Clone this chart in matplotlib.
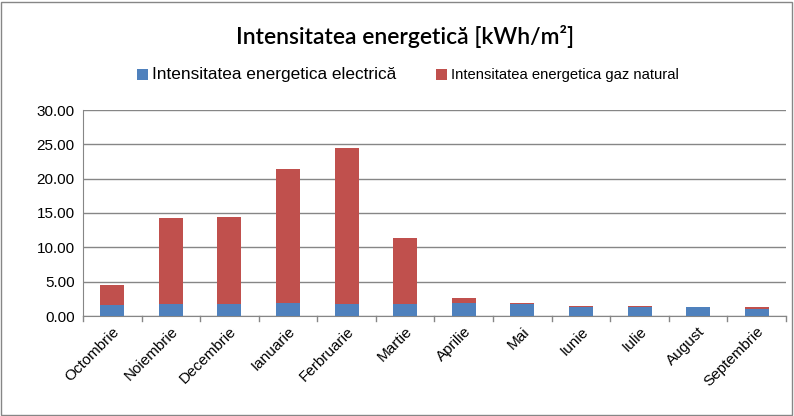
import matplotlib
matplotlib.use("Agg")
import matplotlib.pyplot as plt
from matplotlib.patches import Rectangle

months = ["Octombrie", "Noiembrie", "Decembrie", "Ianuarie", "Ferbruarie", "Martie",
          "Aprilie", "Mai", "Iunie", "Iulie", "August", "Septembrie"]
electric = [1.55, 1.80, 1.80, 1.89, 1.70, 1.70, 1.83, 1.78, 1.34, 1.34, 1.24, 1.09]
total = [4.51, 14.27, 14.42, 21.46, 24.51, 11.36, 2.67, 1.93, 1.49, 1.49, 1.34, 1.29]
gas = [t - e for t, e in zip(total, electric)]
yticks = [0, 5, 10, 15, 20, 25, 30]

plt.rcParams['font.family'] = ['Liberation Sans', 'DejaVu Sans']

fig = plt.figure(figsize=(7.94, 4.16), dpi=100)
W, H = 794, 416
ax = fig.add_axes([83 / W, 1 - 316 / H, (786 - 83) / W, (316 - 110) / H])

x = list(range(len(months)))
blue = "#4F81BD"
red = "#C0504D"
b1 = ax.bar(x, electric, width=0.41, color=blue, label="Intensitatea energetica electrică", zorder=3)
b2 = ax.bar(x, gas, bottom=electric, width=0.41, color=red, label="Intensitatea energetica gaz natural", zorder=3)

ax.set_xlim(-0.5, len(months) - 0.5)
ax.set_ylim(0, 30)
ax.set_yticks(yticks)
ax.set_yticklabels([f"{v:.2f}" for v in yticks], fontsize=11)
ax.yaxis.grid(True, color="#868686", linewidth=1, zorder=0)
ax.tick_params(axis='y', length=0, pad=6)
ax.set_xticks(x)
ax.set_xticklabels(months, rotation=45, ha='right', rotation_mode='anchor', fontsize=11)
ax.tick_params(axis='x', length=0, pad=6)
for i in range(len(months) + 1):
    ax.plot([i - 0.5, i - 0.5], [0, -0.8], color="#868686", lw=1, clip_on=False, zorder=4)
for s in ['top', 'right']:
    ax.spines[s].set_visible(False)
for s in ['left', 'bottom']:
    ax.spines[s].set_color("#868686")

fig.text(0.5105, 1 - 37 / H, "Intensitatea energetică [kWh/m²]", ha='center', va='center',
         fontsize=16.5, fontweight='semibold', family=['Lato', 'DejaVu Sans'])

leg = fig.legend(handles=[b1, b2], loc='center', bbox_to_anchor=(0.514, 1 - 75 / H), ncol=2,
                 frameon=False, fontsize=11, handlelength=0.7, handleheight=0.7,
                 handletextpad=0.3, columnspacing=2.6)
leg.get_texts()[0].set_fontsize(12.4)
leg.get_texts()[1].set_fontsize(10.6)

fig.patches.append(Rectangle((1 / W, 1 / H), (W - 3) / W, (H - 3) / H, transform=fig.transFigure,
                             fill=False, edgecolor="#868686", lw=1))

fig.savefig("out.png", dpi=100)
